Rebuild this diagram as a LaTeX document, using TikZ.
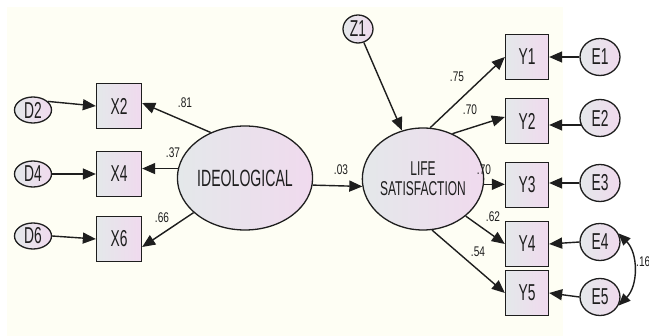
\documentclass[tikz,border=0pt]{standalone}
\usepackage{fontspec}
\setmainfont[FakeStretch=0.6]{Liberation Sans}
\newfontfamily\numfont[FakeStretch=0.72]{Liberation Sans}
\usetikzlibrary{arrows.meta,shapes.geometric}
\definecolor{cream}{RGB}{254,254,244}
\definecolor{gl}{RGB}{228,232,234}
\definecolor{gr}{RGB}{240,218,238}
\definecolor{ink}{RGB}{30,30,30}
\tikzset{
  base/.style={draw=ink,line width=1.3pt,left color=gl,right color=gr,inner sep=0pt,text=ink},
  obs/.style={base,rectangle,minimum width=45pt,minimum height=45pt,font=\fontsize{23}{23}\selectfont},
  err/.style={base,ellipse,font=\fontsize{23}{23}\selectfont},
  lat/.style={base,ellipse,minimum width=113pt,minimum height=104pt},
  arr/.style={draw=ink,line width=1.4pt,-{Triangle[length=13pt,width=11pt]}},
  lab/.style={font=\numfont\fontsize{14}{14}\selectfont,text=ink,inner sep=0pt}
}
\begin{document}
\begin{tikzpicture}[x=1pt,y=-1pt]
\useasboundingbox (0,0) rectangle (649,336);
\fill[white] (0,0) rectangle (649,336);
\fill[cream] (7,7) rectangle (563,336);
% left side
\node[err,minimum width=37pt,minimum height=26pt] (d2) at (33,110) {D2};
\node[err,minimum width=37pt,minimum height=26pt] (d4) at (33,174) {D4};
\node[err,minimum width=37pt,minimum height=26pt] (d6) at (33,236) {D6};
\node[obs] (x2) at (119,106) {X2};
\node[obs] (x4) at (119,174) {X4};
\node[obs] (x6) at (119,239) {X6};
\node[lat,font=\fontsize{23.5}{23.5}\selectfont] (ideo) at (245,178) {IDEOLOGICAL};
% right side
\node[lat,minimum width=111pt,minimum height=102pt,align=center,font=\fontsize{20}{20}\selectfont] (life) at (423,179) {LIFE\\SATISFACTION};
\node[err,minimum width=30pt,minimum height=28pt] (z1) at (358,29) {Z1};
\node[obs,minimum width=43pt] (y1) at (527,57) {Y1};
\node[obs,minimum width=43pt] (y2) at (527,121) {Y2};
\node[obs,minimum width=43pt] (y3) at (527,185) {Y3};
\node[obs,minimum width=43pt] (y4) at (527,244) {Y4};
\node[obs,minimum width=43pt] (y5) at (527,293) {Y5};
\node[err,minimum width=40pt,minimum height=37pt] (e1) at (600,57) {E1};
\node[err,minimum width=40pt,minimum height=37pt] (e2) at (600,118) {E2};
\node[err,minimum width=40pt,minimum height=37pt] (e3) at (600,183) {E3};
\node[err,minimum width=40pt,minimum height=37pt] (e4) at (600,242) {E4};
\node[err,minimum width=40pt,minimum height=37pt] (e5) at (600,297) {E5};
% connectors left
\draw[arr] (d2.30) -- (x2.west);
\draw[arr] (d4.east) -- (x4.west);
\draw[arr] (d6.east) -- (x6.west);
\draw[arr] (ideo.127) -- ([yshift=3pt]x2.east);
\draw[arr] (ideo.172) -- (ideo.172 -| x4.east);
\draw[arr] (ideo.214) -- ([yshift=-8pt]x6.east);
\draw[arr] (ideo.354) -- (life.187);
\draw[arr] (z1) -- (life);
% connectors right
\draw[arr] (life.82) -- (y1.west);
\draw[arr] (life.57) -- ([yshift=4pt]y2.west);
\draw[arr] (life.355) -- (life.355 -| y3.west);
\draw[arr] (life.319) -- (y4.west);
\draw[arr] (life.280) -- (y5.west);
\draw[arr] (e1.west) -- (y1.east);
\draw[arr] (e2.200) -- (e2.200 -| y2.east);
\draw[arr] (e3.west) -- (e3.west -| y3.east);
\draw[arr] (e4.west) -- (y4.east);
\draw[arr] (e5.west) -- (y5.east);
\draw[draw=ink,line width=1.4pt,{Triangle[length=12pt,width=10pt]}-{Triangle[length=12pt,width=10pt]}] (e4.25) to[bend left=45] (e5.-25);
% labels
\node[lab] (l1) at (185,103) {.81};
\node[lab] (l2) at (173,153) {.37};
\node[lab] (l3) at (162,218) {.66};
\node[lab] (l4) at (341,170) {.03};
\node[lab] (l5) at (457,77) {.75};
\node[lab] (l6) at (470,110) {.70};
\node[lab] (l7) at (484,170) {.70};
\node[lab] (l8) at (493,217) {.62};
\node[lab] (l9) at (478,252) {.54};
\node[lab,anchor=west] (l10) at (636,262) {.16};
\end{tikzpicture}
\end{document}
